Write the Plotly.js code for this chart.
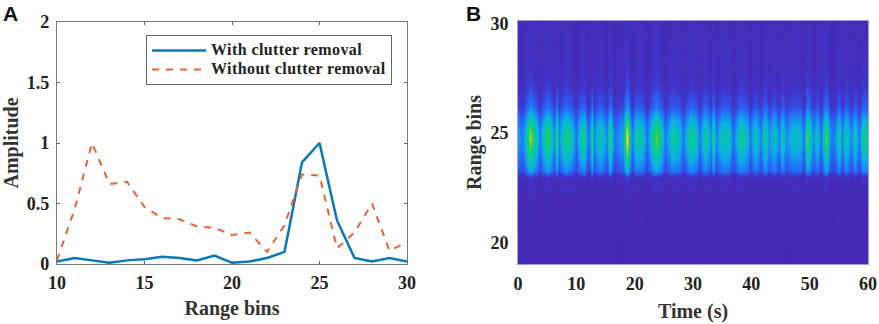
<!DOCTYPE html>
<html><head><meta charset="utf-8"><script src="https://cdn.plot.ly/plotly-3.0.1.min.js"></script>
<style>html,body{margin:0;padding:0;background:#fff}
.legendtext{font-size:16px !important;letter-spacing:.4px}</style></head><body><div id="c" style="width:879px;height:324px"></div>
<script>
const rangeBins=[10,11,12,13,14,15,16,17,18,19,20,21,22,23,24,25,26,27,28,29,30];
const withRemoval=[.02,.05,.03,.01,.03,.04,.06,.05,.03,.07,.01,.02,.05,.10,.84,1,.36,.05,.02,.05,.02];
const withoutRemoval=[.03,.45,1,.66,.68,.47,.38,.37,.31,.30,.24,.26,.10,.32,.74,.73,.13,.26,.50,.11,.18];
const timeSec=[0,.7,1.2,2.1,3,3.7,4.2,5.1,5.9,6.1,6.6,7,7.3,8.2,9.3,9.9,10.4,11.3,11.9,12.1,12.6,13,13.3,14.1,14.9,15.2,15.7,16.2,16.6,17.3,18,18.6,19.2,19.6,20.3,21.3,22.1,22.7,23.6,24.6,25.2,26.4,27.6,28.2,29.4,30.6,31.1,32.1,33,33.5,34,35,36.2,36.8,38,39.3,39.8,40.6,41.6,42.3,43,43.8,44.7,45.3,45.9,47.1,48.3,49,49.6,50.5,51.3,52,52.8,53.4,54.2,55,55.6,56.3,57,57.7,58.4,59.1,60];
const timeAmp=[.4,.28,.44,.84,.54,.28,.5,.72,.48,.32,.68,.3,.46,.66,.48,.25,.48,.64,.32,.27,.66,.3,.42,.56,.38,.3,.72,.33,.27,.36,.4,1,.48,.28,.58,.52,.25,.46,.78,.5,.27,.56,.5,.27,.62,.48,.27,.6,.33,.64,.3,.54,.5,.25,.6,.48,.27,.54,.3,.62,.33,.54,.29,.58,.33,.48,.46,.27,.76,.33,.5,.27,.76,.33,.27,.6,.3,.58,.3,.54,.27,.62,.54];
const rangeAxis=[19,20,21,22,22.5,22.8,23,23.15,23.3,23.6,24,24.4,24.8,25.1,25.5,25.9,26.2,26.5,27,27.5,28,29,30.1];
const rangeProfile=[.03,.03,.04,.05,.07,.1,.15,.3,.5,.62,.78,.92,1,.92,.75,.52,.36,.3,.2,.15,.12,.1,.08];
const heat=rangeProfile.map(p=>timeAmp.map(a=>p*a));
const xTicksB=[0,10,20,30,40,50,60];
const yTicksA=[0,.5,1,1.5,2];
const serif='"Liberation Serif","Times New Roman",serif';
const tf={family:serif,size:18,color:'#222',weight:'bold'};
const data=[
{type:'scatter',mode:'lines',x:rangeBins,y:withRemoval,name:'<b>With clutter removal</b>',line:{color:'#0a78b4',width:2.5},xaxis:'x',yaxis:'y'},
{type:'scatter',mode:'lines',x:rangeBins,y:withoutRemoval,name:'<b>Without clutter removal</b>',line:{color:'#e8633a',width:2,dash:'7px,7px'},xaxis:'x',yaxis:'y'},
{type:'heatmap',x:timeSec,y:rangeAxis,z:heat,zmin:0,zmax:1,zsmooth:'best',showscale:false,showlegend:false,xaxis:'x2',yaxis:'y2',
 colorscale:[[0,'#4628b0'],[.1,'#4034c8'],[.2,'#2c5cee'],[.3,'#1a84f4'],[.4,'#0eaee4'],[.5,'#08c0b8'],[.6,'#0ccc8c'],[.7,'#20d060'],[.8,'#90d030'],[.9,'#e8cc10'],[1,'#ffd400']]}
];
const W=879,H=324;
const tt={family:serif,size:20,color:'#333'};
const layout={width:W,height:H,margin:{l:0,r:0,t:0,b:0},paper_bgcolor:'#fff',plot_bgcolor:'#fff',
 font:{family:serif,color:'#222'},
 xaxis:{domain:[57/W,407/W],range:[10,30],tickvals:[10,15,20,25,30],ticks:'inside',ticklen:3,tickcolor:'#666',mirror:'allticks',showline:true,linecolor:'#777',linewidth:1.2,showgrid:false,zeroline:false,tickfont:tf,ticklabelstandoff:2,
  title:{text:'<b>Range bins</b>',font:tt,standoff:9},anchor:'y'},
 yaxis:{domain:[1-264/H,1-22/H],range:[0,2],tickvals:yTicksA,ticktext:['0','0.5','1','1.5','2'],ticks:'inside',ticklen:3,tickcolor:'#666',mirror:'allticks',showline:true,linecolor:'#777',linewidth:1.2,showgrid:false,zeroline:false,tickfont:tf,ticklabelstandoff:3,
  title:{text:'<b>Amplitude</b>',font:tt,standoff:6},anchor:'x'},
 xaxis2:{domain:[518/W,868/W],range:[0,60],tickvals:xTicksB,ticks:'',showgrid:false,zeroline:false,showline:true,linecolor:'#a598ec',linewidth:1,mirror:true,tickfont:tf,ticklabelstandoff:3,
  title:{text:'<b>Time (s)</b>',font:tt,standoff:11},anchor:'y2'},
 yaxis2:{domain:[1-264/H,1-21/H],range:[19.05,30.1],tickvals:[20,25,30],ticks:'',showgrid:false,zeroline:false,showline:true,linecolor:'#a598ec',linewidth:1,mirror:true,tickfont:tf,ticklabelstandoff:5,
  title:{text:'<b>Range bins</b>',font:tt,standoff:3},anchor:'x2'},
 legend:{x:392/W,y:1-35/H,xanchor:'right',yanchor:'top',bgcolor:'#fff',bordercolor:'#666',borderwidth:1,font:{family:serif,size:12,color:'#222'},itemwidth:54,tracegroupgap:0},
 annotations:[
  {xref:'paper',yref:'paper',x:1/W,y:1,xanchor:'left',yanchor:'top',text:'<b>A</b>',showarrow:false,font:{family:'"Liberation Sans",Arial,sans-serif',size:21,color:'#111'}},
  {xref:'paper',yref:'paper',x:464/W,y:1,xanchor:'left',yanchor:'top',text:'<b>B</b>',showarrow:false,font:{family:'"Liberation Sans",Arial,sans-serif',size:21,color:'#111'}}
 ]};
Plotly.newPlot('c',data,layout,{displayModeBar:false,responsive:false});
</script></body></html>
